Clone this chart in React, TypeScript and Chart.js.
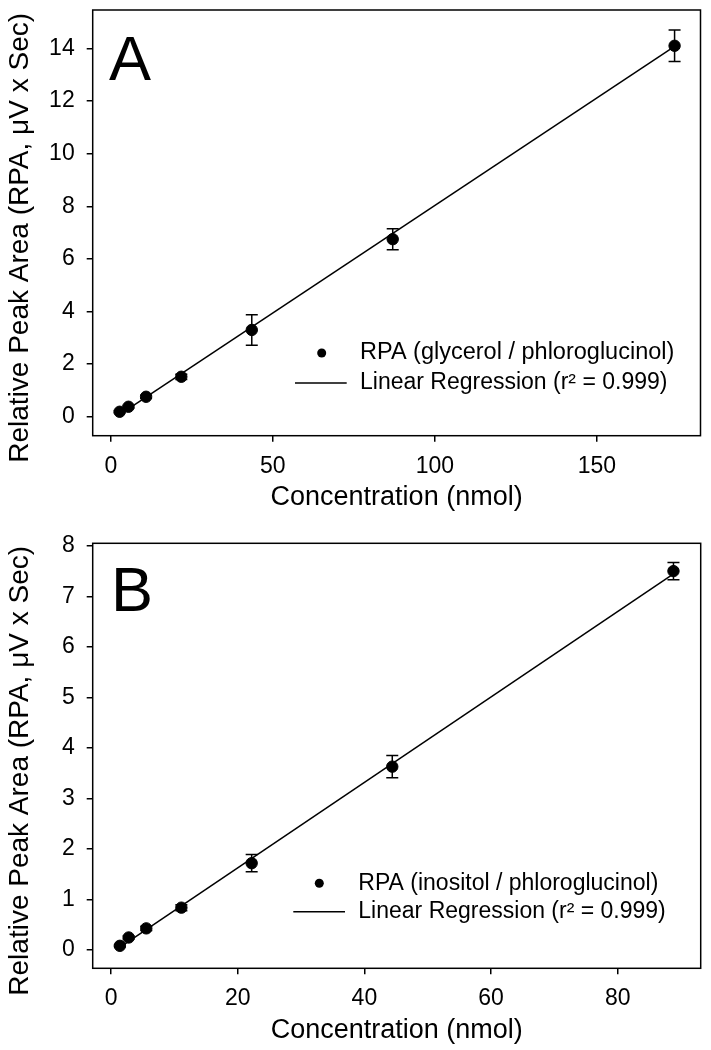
import React, { useEffect, useRef } from "react";
import { Chart, registerables } from "chart.js";

Chart.register(...registerables);

// ---------- Data: panel A ----------
const concA = [2.72, 5.44, 10.88, 21.75, 43.5, 87, 174];
const rpaA = [0.19, 0.38, 0.76, 1.52, 3.3, 6.75, 14.1];
const errA = [0.04, 0.05, 0.06, 0.1, 0.58, 0.4, 0.6];
const fitXA = [2.72, 174];
const fitYA = [0.08, 14.08];
const xTicksA = [0, 50, 100, 150];
const yTicksA = [0, 2, 4, 6, 8, 10, 12, 14];

// ---------- Data: panel B ----------
const concB = [1.39, 2.78, 5.56, 11.1, 22.2, 44.4, 88.8];
const rpaB = [0.085, 0.25, 0.43, 0.84, 1.72, 3.63, 7.5];
const errB = [0.02, 0.03, 0.04, 0.06, 0.17, 0.22, 0.17];
const fitXB = [1.39, 88.8];
const fitYB = [0.053, 7.446];
const xTicksB = [0, 20, 40, 60, 80];
const yTicksB = [0, 1, 2, 3, 4, 5, 6, 7, 8];

// ---------- Text ----------
const pointLabelA = "RPA (glycerol / phloroglucinol)";
const pointLabelB = "RPA (inositol / phloroglucinol)";
const fitLabel = "Linear Regression (r\u00B2 = 0.999)";
const xTitle = "Concentration (nmol)";
const yTitle = "Relative Peak Area (RPA, \u03BCV x Sec)";

const FONT = '"Liberation Sans", Arial, Helvetica, sans-serif';

type Spec = {
  letter: string;
  x: number[];
  y: number[];
  err: number[];
  fitX: number[];
  fitY: number[];
  xTicks: number[];
  yTicks: number[];
  pointLabel: string;
  legendSize: number;
  top: number;
  height: number;
  padTop: number;
  padRight: number;
  yAxisWidth: number;
  xAxisHeight: number;
  xTitlePad: number;
  xMin: number;
  xMax: number;
  yMin: number;
  yMax: number;
  legend: { dotX: number; textX: number; row1: number; row2: number; lx1: number; lx2: number };
  letterPos: { x: number; y: number };
};

const specA: Spec = {
  letter: "A",
  x: concA,
  y: rpaA,
  err: errA,
  fitX: fitXA,
  fitY: fitYA,
  xTicks: xTicksA,
  yTicks: yTicksA,
  pointLabel: pointLabelA,
  legendSize: 23.5,
  top: 0,
  height: 525,
  padTop: 10,
  padRight: 10.5,
  yAxisWidth: 92.7,
  xAxisHeight: 89.3,
  xTitlePad: 11,
  xMin: -5.6,
  xMax: 182,
  yMin: -0.72,
  yMax: 15.46,
  legend: { dotX: 321.7, textX: 360, row1: 353, row2: 383, lx1: 295, lx2: 346.7 },
  letterPos: { x: 109, y: 80 },
};

const specB: Spec = {
  letter: "B",
  x: concB,
  y: rpaB,
  err: errB,
  fitX: fitXB,
  fitY: fitYB,
  xTicks: xTicksB,
  yTicks: yTicksB,
  pointLabel: pointLabelB,
  legendSize: 23,
  top: 533,
  height: 517,
  padTop: 10.3,
  padRight: 10.3,
  yAxisWidth: 92.7,
  xAxisHeight: 81.7,
  xTitlePad: 3.5,
  xMin: -2.9,
  xMax: 93.1,
  yMin: -0.36,
  yMax: 8.05,
  legend: { dotX: 319.3, textX: 358.3, row1: 350.3, row2: 378.7, lx1: 293.3, lx2: 345 },
  letterPos: { x: 111, y: 78 },
};

function Panel({ spec }: { spec: Spec }) {
  const ref = useRef<HTMLCanvasElement>(null);

  useEffect(() => {
    const canvas = ref.current;
    if (!canvas) return;

    const decor = {
      id: "decor" + spec.letter,
      afterDatasetsDraw(chart: any) {
        const { ctx, scales } = chart;
        const xs = scales.x;
        const ys = scales.y;
        ctx.save();
        ctx.strokeStyle = "#000";
        ctx.lineWidth = 1.5;
        spec.x.forEach((xv, i) => {
          const px = xs.getPixelForValue(xv);
          const t = ys.getPixelForValue(spec.y[i] + spec.err[i]);
          const b = ys.getPixelForValue(spec.y[i] - spec.err[i]);
          ctx.beginPath();
          ctx.moveTo(px, t);
          ctx.lineTo(px, b);
          ctx.moveTo(px - 6, t);
          ctx.lineTo(px + 6, t);
          ctx.moveTo(px - 6, b);
          ctx.lineTo(px + 6, b);
          ctx.stroke();
        });
        ctx.restore();
      },
      afterDraw(chart: any) {
        const { ctx, chartArea: a } = chart;
        ctx.save();
        // frame
        ctx.strokeStyle = "#000";
        ctx.lineWidth = 1.5;
        ctx.strokeRect(a.left, a.top, a.right - a.left, a.bottom - a.top);
        // y-axis title (rotated, centred a little below the frame centre as in the source)
        ctx.fillStyle = "#000";
        ctx.save();
        ctx.translate(20, (a.top + a.bottom) / 2 + 15);
        ctx.rotate(-Math.PI / 2);
        ctx.font = `28px ${FONT}`;
        ctx.textAlign = "center";
        ctx.textBaseline = "middle";
        ctx.fillText(yTitle, 0, 0);
        ctx.restore();
        // panel letter
        ctx.font = `63px ${FONT}`;
        ctx.textAlign = "left";
        ctx.textBaseline = "alphabetic";
        ctx.fillText(spec.letter, spec.letterPos.x, spec.letterPos.y);
        // legend
        const L = spec.legend;
        ctx.beginPath();
        ctx.arc(L.dotX, L.row1, 4.5, 0, Math.PI * 2);
        ctx.fill();
        ctx.beginPath();
        ctx.lineWidth = 1.5;
        ctx.moveTo(L.lx1, L.row2);
        ctx.lineTo(L.lx2, L.row2);
        ctx.stroke();
        ctx.font = `${spec.legendSize}px ${FONT}`;
        ctx.textBaseline = "middle";
        ctx.fillText(spec.pointLabel, L.textX, L.row1);
        ctx.font = `23px ${FONT}`;
        ctx.fillText(fitLabel, L.textX, L.row2);
        ctx.restore();
      },
    };

    const chart = new Chart(canvas, {
      type: "scatter",
      data: {
        datasets: [
          {
            label: spec.pointLabel,
            data: spec.x.map((xv, i) => ({ x: xv, y: spec.y[i] })),
            backgroundColor: "#000",
            borderColor: "#000",
            pointRadius: 5.7,
            pointHoverRadius: 5.7,
            showLine: false,
            order: 1,
          },
          {
            label: fitLabel,
            data: spec.fitX.map((xv, i) => ({ x: xv, y: spec.fitY[i] })),
            borderColor: "#000",
            borderWidth: 1.5,
            pointRadius: 0,
            showLine: true,
            fill: false,
            order: 2,
          },
        ],
      },
      options: {
        responsive: false,
        animation: false,
        events: [],
        layout: { padding: { top: spec.padTop, right: spec.padRight, left: 0, bottom: 0 } },
        plugins: {
          legend: { display: false },
          tooltip: { enabled: false },
          title: { display: false },
        },
        scales: {
          x: {
            type: "linear",
            position: "bottom",
            min: spec.xMin,
            max: spec.xMax,
            afterBuildTicks: (s: any) => {
              s.ticks = spec.xTicks.map((v) => ({ value: v }));
            },
            afterFit: (s: any) => {
              s.height = spec.xAxisHeight;
              s.paddingLeft = 0;
              s.paddingRight = 0;
            },
            grid: {
              display: true,
              drawOnChartArea: false,
              drawTicks: true,
              tickLength: 6,
              color: "#000",
              lineWidth: 1.5,
            },
            border: { display: false },
            ticks: {
              color: "#000",
              font: { family: FONT, size: 23 },
              padding: 11,
              maxRotation: 0,
              autoSkip: false,
              callback: (v: any) => String(v),
            },
            title: {
              display: true,
              text: xTitle,
              color: "#000",
              font: { family: FONT, size: 27 },
              padding: { top: 0, bottom: spec.xTitlePad },
            },
          },
          y: {
            type: "linear",
            position: "left",
            min: spec.yMin,
            max: spec.yMax,
            afterBuildTicks: (s: any) => {
              s.ticks = spec.yTicks.map((v) => ({ value: v }));
            },
            afterFit: (s: any) => {
              s.width = spec.yAxisWidth;
              s.paddingTop = 0;
              s.paddingBottom = 0;
            },
            grid: {
              display: true,
              drawOnChartArea: false,
              drawTicks: true,
              tickLength: 6,
              color: "#000",
              lineWidth: 1.5,
            },
            border: { display: false },
            ticks: {
              color: "#000",
              font: { family: FONT, size: 23 },
              padding: 12,
              autoSkip: false,
              callback: (v: any) => String(v),
            },
            title: { display: false, text: yTitle },
          },
        },
      },
      plugins: [decor],
    } as any);

    return () => chart.destroy();
  }, [spec]);

  return (
    <canvas
      ref={ref}
      width={711}
      height={spec.height}
      style={{
        position: "absolute",
        left: 0,
        top: spec.top,
        width: 711,
        height: spec.height,
        display: "block",
      }}
    />
  );
}

export default function App() {
  return (
    <div
      style={{
        position: "absolute",
        left: 0,
        top: 0,
        width: 711,
        height: 1050,
        background: "#fff",
        overflow: "hidden",
      }}
    >
      <Panel spec={specA} />
      <Panel spec={specB} />
    </div>
  );
}
